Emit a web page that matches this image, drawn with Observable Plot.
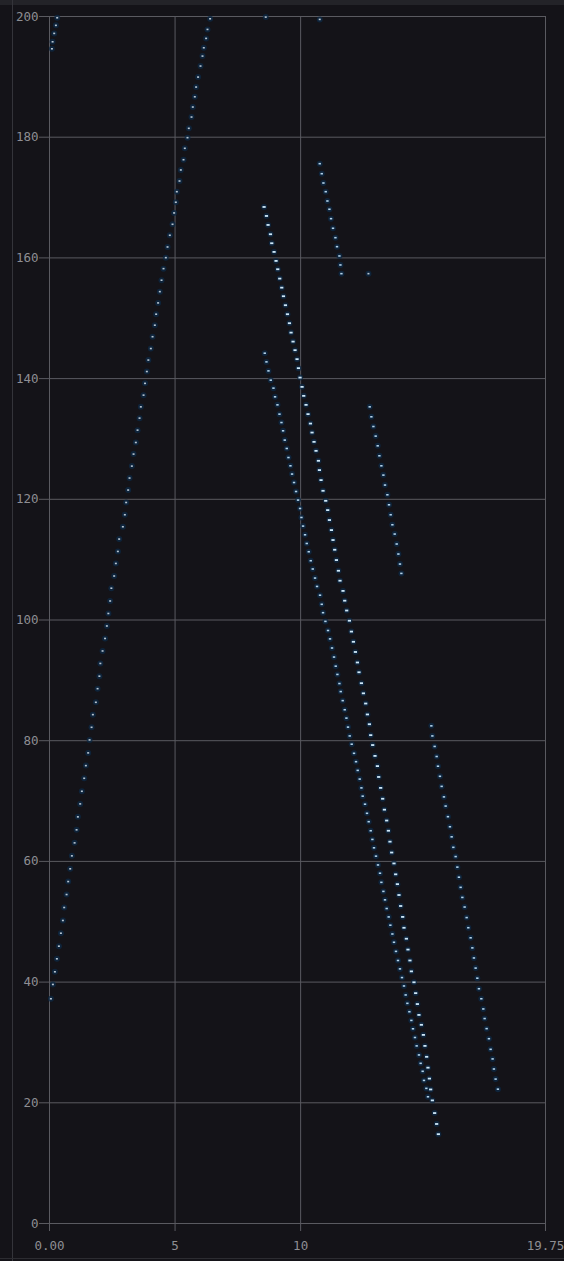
<!DOCTYPE html>
<html>
<head>
<meta charset="utf-8">
<script src="https://cdn.jsdelivr.net/npm/d3@7"></script>
<script src="https://cdn.jsdelivr.net/npm/@observablehq/plot@0.6"></script>
<style>
  html, body { margin: 0; padding: 0; background: #141318; }
  #wrap { position: relative; width: 564px; height: 1261px; overflow: hidden; }
  #topband { position: absolute; left: 0; top: 0; width: 564px; height: 5px; background: #232328; }
  #leftline { position: absolute; left: 12px; top: 0; width: 1px; height: 1261px; background: #34343a; }
  #bottomline { position: absolute; left: 0; top: 1258px; width: 564px; height: 1px; background: #2c2c31; }
</style>
</head>
<body>
<div id="wrap"><div id="chart"></div><div id="topband"></div><div id="leftline"></div><div id="bottomline"></div></div>
<script>
// ---- tick labels ----
const xTicks = [0, 5, 10, 19.75];
const xTickLabels = ["0.00", "5", "10", "19.75"];
const yTicks = [0, 20, 40, 60, 80, 100, 120, 140, 160, 180, 200];

// ---- series values ----
const topX = [0.306, 0.255, 0.187, 0.123, 0.096];
const topY = [199.79, 198.53, 197.20, 195.81, 194.65];

const riseX = [0.056,0.135,0.215,0.294,0.374,0.454,0.533,0.585,0.680,0.744,
  0.824,0.891,0.999,1.078,1.130,1.222,1.289,1.381,1.448,1.540,
  1.596,1.675,1.727,1.846,1.914,1.986,2.025,2.113,2.212,2.284,
  2.344,2.415,2.463,2.575,2.642,2.722,2.774,2.921,3.000,3.052,
  3.132,3.187,3.279,3.347,3.438,3.506,3.585,3.637,3.745,3.804,
  3.876,3.936,4.035,4.103,4.194,4.246,4.325,4.393,4.461,4.540,
  4.632,4.700,4.791,4.899,4.962,5.030,5.070,5.177,5.229,5.336,
  5.388,5.495,5.547,5.655,5.706,5.786,5.838,5.917,6.013,6.092,
  6.144,6.236,6.291,6.395];
const riseY = [37.24,39.61,41.71,43.86,45.95,48.10,50.21,52.36,54.51,56.66,
  58.77,60.92,63.07,65.23,67.38,69.53,71.62,73.77,75.87,77.98,
  80.13,82.22,84.32,86.36,88.62,90.69,92.80,94.87,96.94,99.01,
  101.08,103.15,105.27,107.29,109.37,111.36,113.41,115.45,117.44,119.47,
  121.53,123.52,125.50,127.49,129.41,131.46,133.45,135.32,137.26,139.21,
  141.17,143.07,144.98,146.94,148.85,150.67,152.54,154.41,156.30,158.22,
  160.04,161.81,163.75,165.57,167.45,169.22,170.97,172.74,174.57,176.27,
  178.16,179.92,181.47,183.34,185.00,186.70,188.31,189.96,191.79,193.44,
  194.82,196.37,197.86,199.62];

const aX = [8.544,8.639,8.703,8.798,8.850,8.942,9.021,9.089,9.168,9.248,
  9.316,9.395,9.475,9.554,9.618,9.698,9.777,9.857,9.912,9.976,
  10.056,10.123,10.215,10.294,10.390,10.454,10.533,10.613,10.708,10.748,
  10.812,10.891,10.999,11.078,11.146,11.226,11.289,11.357,11.425,11.504,
  11.568,
  11.687,11.755,11.834,11.942,12.021,12.101,12.181,12.260,12.324,12.420,
  12.499,12.591,12.658,12.738,12.790,12.869,12.961,13.056,13.108,13.187,
  13.267,13.335,13.426,13.494,13.557,13.625,13.717,13.784,13.852,13.916,
  13.983,14.063,14.115,14.210,14.274,14.353,14.409,14.513,14.580,14.648,
  14.711,14.807,14.887,14.950,15.018,15.070,15.126,15.177,15.245,15.336,
  15.416,15.484];
const aY = [168.44,166.95,165.46,163.92,162.43,160.99,159.50,158.12,156.57,155.07,
  153.65,152.16,150.67,149.18,147.62,146.13,144.71,143.22,141.73,140.17,
  138.63,137.14,135.65,134.11,132.55,131.06,129.52,128.03,126.38,124.84,
  123.18,121.41,119.75,118.21,116.56,114.90,113.25,111.64,109.93,108.16,
  106.51,
  104.82,103.20,101.57,99.88,98.08,96.39,94.70,92.96,91.34,89.53,
  87.85,86.16,84.35,82.73,80.92,79.28,77.48,75.79,73.99,72.18,
  70.38,68.57,66.77,65.08,63.27,61.47,59.66,57.86,56.23,54.43,
  52.61,50.80,49.00,47.19,45.39,43.58,41.78,39.97,38.17,36.36,
  34.56,32.92,31.25,29.43,27.62,25.82,24.01,22.21,20.40,18.30,
  16.49,14.80];

const bX = [8.571,8.639,8.719,8.810,8.918,8.981,9.077,9.157,9.236,9.300,
  9.367,9.447,9.515,9.594,9.658,9.737,9.817,9.897,9.976,10.032,
  10.096,10.175,10.243,10.322,10.402,10.482,10.573,10.653,
  10.772,10.840,10.891,10.987,11.090,11.170,11.249,11.329,11.397,11.464,
  11.544,11.596,11.675,11.755,11.823,11.886,11.954,12.033,12.125,12.205,
  12.272,12.352,12.420,12.471,12.563,12.642,12.710,12.790,12.857,12.921,
  13.000,13.080,13.160,13.215,13.295,13.359,13.426,13.506,13.573,13.653,
  13.717,13.796,13.876,13.955,14.035,14.115,14.182,14.250,14.330,14.409,
  14.473,14.552,14.620,14.711,14.779,14.859,14.911,15.006,15.070];
const bY = [144.21,142.77,141.28,139.74,138.42,136.98,135.65,134.11,132.72,131.35,
  129.81,128.42,126.92,125.55,124.18,122.78,121.29,119.87,118.48,116.99,
  115.56,114.12,112.68,111.31,109.82,108.45,106.95,105.56,
  104.11,102.60,101.21,99.77,98.26,96.87,95.36,93.86,92.35,90.98,
  89.47,88.14,86.64,85.13,83.74,82.25,80.79,79.42,77.91,76.52,
  75.08,73.64,72.18,70.81,69.48,67.97,66.58,65.08,63.64,62.25,
  60.87,59.41,58.04,56.53,55.03,53.63,52.19,50.80,49.43,47.97,
  46.60,45.09,43.58,42.19,40.75,39.36,37.87,36.48,35.09,33.65,
  32.26,30.82,29.43,27.93,26.54,25.22,23.71,22.39,21.00];

const cX = [10.760,10.840,10.907,10.999,11.066,11.146,11.210,11.289,11.385,11.448,11.544,11.584,11.624];
const cY = [175.61,173.95,172.41,170.97,169.43,168.06,166.50,164.91,163.35,161.86,160.32,158.83,157.39];

const dX = [12.750,12.817,12.897,12.988,13.068,13.136,13.215,13.295,13.359,13.454,13.518,13.585,13.653,13.745,13.824,13.892,13.955,14.011];
const dY = [135.32,133.67,132.06,130.47,128.86,127.21,125.55,124.01,122.36,120.75,119.09,117.44,115.78,114.24,112.59,110.93,109.27,107.72];

const eX = [15.205,15.245,15.336,15.416,15.468,15.547,15.615,15.706,15.774,15.865,
  15.945,16.013,16.080,16.172,16.240,16.303,16.371,16.439,16.530,16.610,
  16.677,16.769,16.837,16.900,16.968,17.035,17.099,17.195,17.274,17.326,
  17.406,17.497,17.565,17.644,17.696,17.764,17.855];
const eY = [82.46,80.79,79.05,77.38,75.77,74.10,72.43,70.69,69.17,67.41,
  65.74,64.07,62.33,60.80,59.05,57.38,55.70,54.03,52.44,50.69,
  49.01,47.34,45.67,44.00,42.32,40.65,38.90,37.24,35.55,33.96,
  32.29,30.62,28.86,27.27,25.60,23.93,22.26];

const isoX = [8.61, 10.76, 12.70];
const isoY = [199.9, 199.52, 157.39];

// ---- table built from the arrays ----
function rows(name, xs, ys) { return xs.map((x, i) => ({series: name, x, y: ys[i]})); }
const thin = [
  ...rows("top", topX, topY), ...rows("rise", riseX, riseY), ...rows("iso", isoX, isoY)
];
const mid = [...rows("B", bX, bY), ...rows("C", cX, cY), ...rows("D", dX, dY), ...rows("E", eX, eY)];
const thick = rows("A", aX, aY);
const all = [...thin, ...mid, ...thick];

const dash = (w, h) => ({ draw(ctx) { ctx.rect(-w / 2, -h / 2, w, h); } });

const gridColor = "#5a5a60";
const textColor = "#8e8e93";

const chart = Plot.plot({
  width: 564,
  height: 1261,
  marginLeft: 49,
  marginRight: 19,
  marginTop: 16,
  marginBottom: 38,
  x: {domain: [0, 19.75], axis: null},
  y: {domain: [0, 200], axis: null},
  style: {background: "#141318", color: textColor, fontFamily: "'DejaVu Sans Mono', monospace", fontSize: "12.5px"},
  marks: [
    Plot.gridY(yTicks, {stroke: gridColor, strokeOpacity: 1}),
    Plot.gridX(xTicks, {stroke: gridColor, strokeOpacity: 1}),
    Plot.axisY(yTicks, {label: null, tickSize: 10, tickPadding: 1, stroke: gridColor, fill: textColor, tickFormat: d => String(d)}),
    Plot.axisX(xTicks, {label: null, tickSize: 8, tickPadding: 10, stroke: gridColor, fill: textColor, tickFormat: d => xTickLabels[xTicks.indexOf(d)]}),
    Plot.dot(all, {x: "x", y: "y", r: 3, fill: "#0c2a45", fillOpacity: 0.75, stroke: "none"}),
    Plot.dot(thin, {x: "x", y: "y", symbol: dash(2, 1.6), r: 1, fill: "#b8c6d2", stroke: "none"}),
    Plot.dot(mid, {x: "x", y: "y", symbol: dash(2.4, 1.6), r: 1, fill: "#b3d3ea", stroke: "none"}),
    Plot.dot(thick, {x: "x", y: "y", symbol: dash(3.2, 1.8), r: 1, fill: "#cfe8f8", stroke: "none"})
  ]
});
document.getElementById("chart").appendChild(chart);
</script>
</body>
</html>
